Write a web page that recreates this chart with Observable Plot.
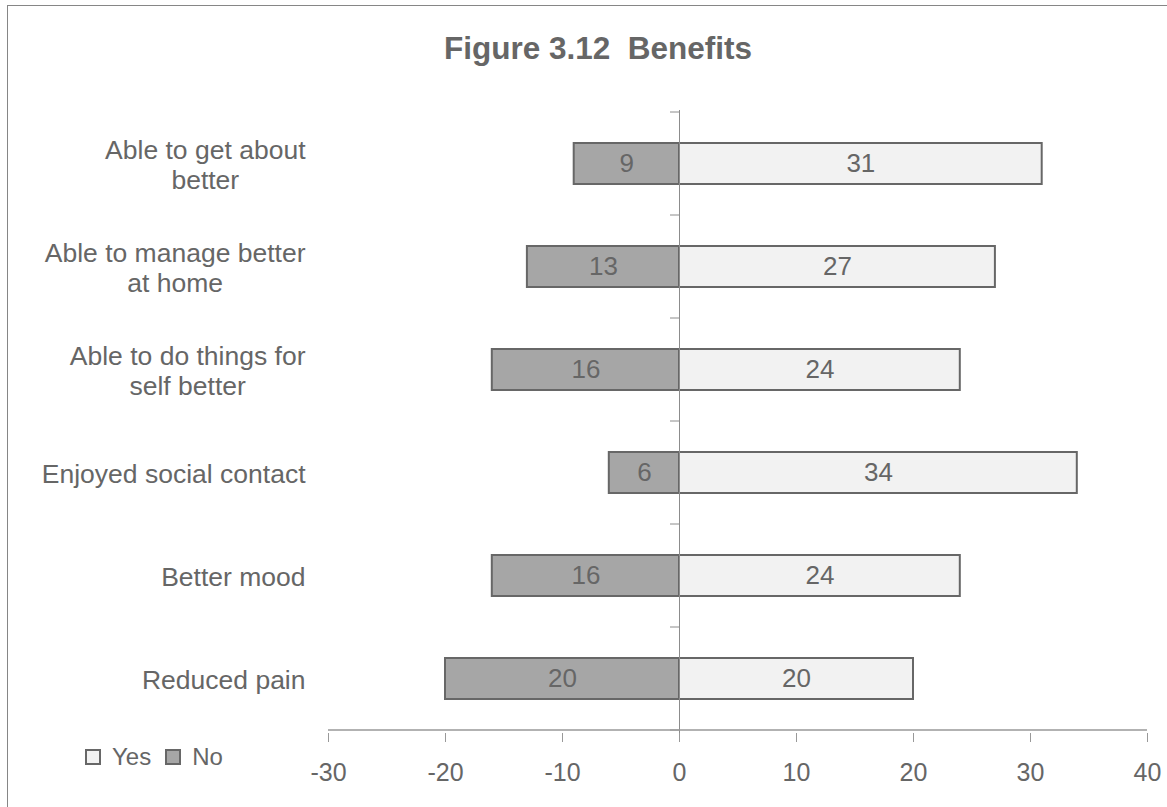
<!DOCTYPE html>
<html>
<head>
<meta charset="utf-8">
<script src="https://cdn.jsdelivr.net/npm/d3@7"></script>
<script src="https://cdn.jsdelivr.net/npm/@observablehq/plot@0.6"></script>
<style>
  html, body { margin: 0; padding: 0; background: #fff; overflow: hidden; }
  #page { position: relative; width: 1167px; height: 807px; overflow: hidden; font-family: "Liberation Sans", Arial, sans-serif; }
  #frame { position: absolute; left: 7px; top: 5px; width: 1200px; height: 850px; border-left: 1.5px solid #868686; border-top: 1.5px solid #868686; }
  #title { position: absolute; left: 0; top: 33px; width: 1196px; text-align: center; font-size: 31.5px; line-height: 1; font-weight: bold; color: #666; }
  #chart { position: absolute; left: 0; top: 0; }
  #legend { position: absolute; left: 85px; top: 745px; height: 24px; display: flex; align-items: center; font-size: 24px; line-height: 24px; color: #666; }
  .sw { width: 12px; height: 12px; border: 2px solid #676767; margin-right: 11px; }
  .item { display: flex; align-items: center; margin-right: 14px; }
</style>
</head>
<body>
<div id="page">
  <div id="frame"></div>
  <div id="chart"></div>
  <div id="title">Figure 3.12&nbsp; Benefits</div>
  <div id="legend"></div>
</div>
<script>
const categories = [
  "Able to get about better",
  "Able to manage better at home",
  "Able to do things for self better",
  "Enjoyed social contact",
  "Better mood",
  "Reduced pain"
];
const categoryLabels = [
  "Able to get about\nbetter",
  "Able to manage better\nat home",
  "Able to do things for\nself better",
  "Enjoyed social contact",
  "Better mood",
  "Reduced pain"
];
const yesValues = [31, 27, 24, 34, 24, 20];
const noValues = [9, 13, 16, 6, 16, 20];
const xTicks = [-30, -20, -10, 0, 10, 20, 30, 40];
const seriesNames = ["Yes", "No"];
const seriesFills = ["#f2f2f2", "#a6a6a6"];

const rows = categories.map((c, i) => ({category: c, label: categoryLabels[i], yes: yesValues[i], no: noValues[i]}));

const FONT = '"Liberation Sans", Arial, sans-serif';
const STROKE = "#676767";

const chart = Plot.plot({
  width: 1167,
  height: 807,
  marginLeft: 328,
  marginRight: 20,
  marginTop: 110,
  marginBottom: 74,
  style: {fontFamily: FONT, color: "#666", background: "transparent", overflow: "visible"},
  x: {domain: [-30, 40], axis: null},
  y: {domain: categories, paddingInner: 0.6, paddingOuter: 0.3, axis: null},
  marks: [
    Plot.barX(rows, {y: "category", x1: d => -d.no, x2: 0, fill: seriesFills[1], stroke: STROKE, strokeWidth: 2}),
    Plot.barX(rows, {y: "category", x1: 0, x2: d => d.yes, fill: seriesFills[0], stroke: STROKE, strokeWidth: 2}),
    Plot.ruleX([0], {stroke: "#8c8c8c", strokeWidth: 1}),
    Plot.text(rows, {y: "category", x: d => -d.no / 2, text: d => String(d.no), fontSize: 26, fill: "#666"}),
    Plot.text(rows, {y: "category", x: d => d.yes / 2, text: d => String(d.yes), fontSize: 26, fill: "#666"}),
    Plot.text(rows, {y: "category", text: "label", frameAnchor: "left", textAnchor: "end", dx: -23, fontSize: 26.5, lineHeight: 1.15, fill: "#666"}),
    Plot.axisX(xTicks, {anchor: "bottom", tickSize: 9, tickPadding: 21, fontSize: 25, stroke: "#999", fill: "#666", tickFormat: d => String(d)})
  ]
});

document.getElementById("chart").appendChild(chart);

// center multi-line category labels as blocks right-aligned at the same edge
chart.querySelectorAll("text").forEach(t => {
  const spans = Array.from(t.querySelectorAll("tspan"));
  if (spans.length > 1) {
    const w = Math.max(...spans.map(s => s.getComputedTextLength()));
    t.setAttribute("text-anchor", "middle");
    t.style.textAnchor = "middle";
    spans.forEach(s => {
      s.setAttribute("x", (+(s.getAttribute("x") || 0)) - w / 2);
      s.setAttribute("text-anchor", "middle");
    });
  }
});

// axis line and category boundary ticks, from the plot's own scales
const xs = chart.scale("x");
const ys = chart.scale("y");
const step = ys.step ?? ys.bandwidth / (1 - ys.paddingInner);
const x0 = xs.apply(0);
const bounds = categories.map(c => ys.apply(c) - (step - ys.bandwidth) / 2);
bounds.push(bounds[bounds.length - 1] + step);
const g = d3.select(chart).append("g");
g.selectAll("line.b").data(bounds).join("line")
  .attr("x1", x0 - 9).attr("x2", x0).attr("y1", d => d).attr("y2", d => d)
  .attr("stroke", "#8c8c8c").attr("stroke-width", 1);
const yAxis = bounds[bounds.length - 1];
g.append("line")
  .attr("x1", xs.apply(xTicks[0])).attr("x2", xs.apply(xTicks[xTicks.length - 1]))
  .attr("y1", yAxis).attr("y2", yAxis)
  .attr("stroke", "#999").attr("stroke-width", 1.5);

// legend
const legend = document.getElementById("legend");
seriesNames.forEach((name, i) => {
  const item = document.createElement("div");
  item.className = "item";
  const sw = document.createElement("div");
  sw.className = "sw";
  sw.style.background = seriesFills[i];
  item.appendChild(sw);
  const label = document.createElement("span");
  label.textContent = name;
  item.appendChild(label);
  legend.appendChild(item);
});
</script>
</body>
</html>
